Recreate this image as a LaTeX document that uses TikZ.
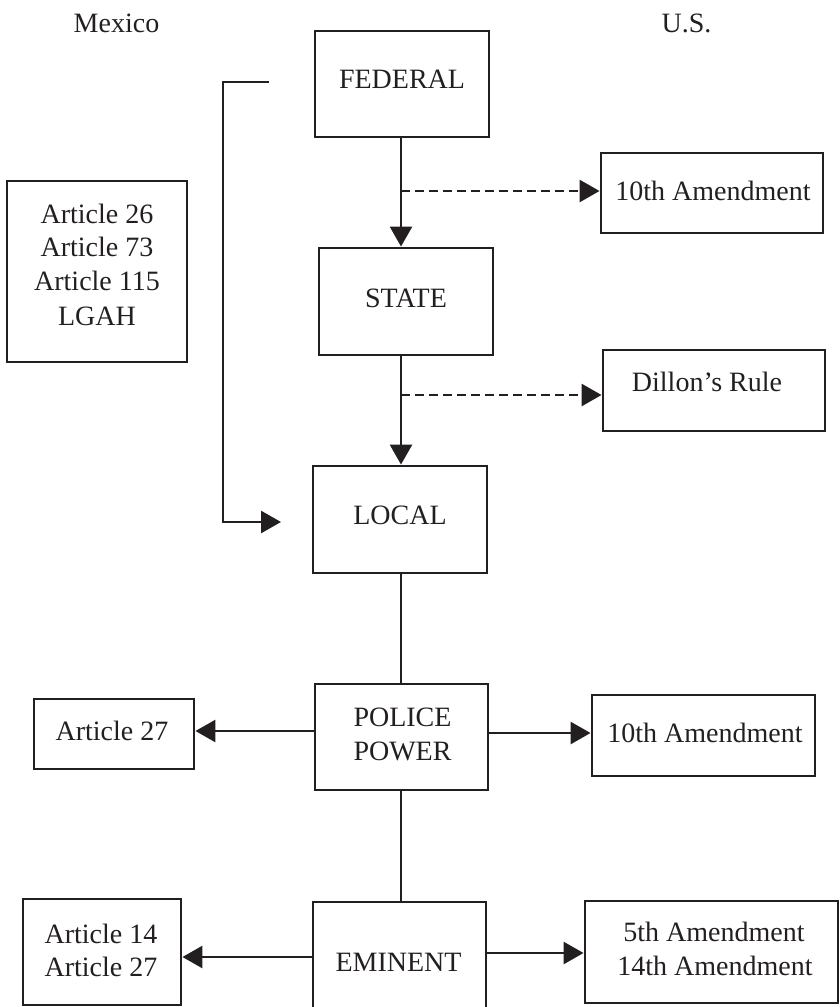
\documentclass[tikz,border=0pt]{standalone}
\usepackage{fontspec}
\setmainfont{Liberation Serif}
\usetikzlibrary{arrows.meta}
\definecolor{ink}{RGB}{35,31,32}
\begin{document}
\begin{tikzpicture}[x=1pt,y=-1pt,
  box/.style={draw=ink, line width=2.9pt, inner sep=0pt, rectangle},
  lbl/.style={text=ink, inner sep=0pt, anchor=base, font=\fontsize{28}{33}\selectfont},
  conn/.style={draw=ink, line width=2.7pt},
  arr/.style={conn, -{Triangle[length=20pt,width=22pt]}},
  dasharr/.style={arr, dash pattern=on 9pt off 5pt},
]
\useasboundingbox (0,0) rectangle (839,1007);
\clip (0,0) rectangle (839,1007);

% boxes
\node[box, minimum width=174pt, minimum height=106pt] (fed) at (402,84) {};
\node[box, minimum width=222pt, minimum height=80pt] (ten1) at (712,193) {};
\node[box, minimum width=174pt, minimum height=107pt] (state) at (406,301.5) {};
\node[box, minimum width=222pt, minimum height=81pt] (dillon) at (714,390.5) {};
\node[box, minimum width=174pt, minimum height=107pt] (local) at (400,519.5) {};
\node[box, minimum width=180pt, minimum height=181pt] (art) at (97,271.5) {};
\node[box, minimum width=173pt, minimum height=106pt] (police) at (401.5,737) {};
\node[box, minimum width=160pt, minimum height=70pt] (art27) at (114,734) {};
\node[box, minimum width=223pt, minimum height=81pt] (ten2) at (703.5,735.5) {};
\node[box, minimum width=158pt, minimum height=106pt] (art1427) at (102,952) {};
\node[box, minimum width=173pt, minimum height=110pt] (eminent) at (399.5,957) {};
\node[box, minimum width=253pt, minimum height=102pt] (fiveth) at (711.5,952) {};

% labels
\node[lbl] (tmx) at (116.5,32) {Mexico};
\node[lbl] (tus) at (686.5,32) {U.S.};
\node[lbl] (tfed) at (402,88) {FEDERAL};
\node[lbl] (tten1) at (713,200) {10th Amendment};
\node[lbl] (tstate) at (406,307) {STATE};
\node[lbl] (tdillon) at (707,391) {Dillon’s Rule};
\node[lbl] (tlocal) at (400,524) {LOCAL};
\node[lbl] (ta1) at (97,223) {Article 26};
\node[lbl] (ta2) at (97,256) {Article 73};
\node[lbl] (ta3) at (97,290) {Article 115};
\node[lbl] (ta4) at (97,325) {LGAH};
\node[lbl] (tpol1) at (402.5,726) {POLICE};
\node[lbl] (tpol2) at (402.5,760) {POWER};
\node[lbl] (tart27) at (112,740) {Article 27};
\node[lbl] (tten2) at (705,742) {10th Amendment};
\node[lbl] (temi) at (398.5,971) {EMINENT};
\node[lbl] (tb1) at (101,943) {Article 14};
\node[lbl] (tb2) at (101,976) {Article 27};
\node[lbl] (tf1) at (714,941) {5th Amendment};
\node[lbl] (tf2) at (715,975) {14th Amendment};

% connectors
\coordinate (d1) at (401,191);
\coordinate (d2) at (401,395);
\draw[arr] (d1 |- fed.south) -- (d1 |- state.north);
\draw[dasharr] (d1) -- (d1 -| ten1.west);
\draw[arr] (d2 |- state.south) -- (d2 |- local.north);
\draw[dasharr] (d2) -- (d2 -| dillon.west);
\coordinate (b1) at (269,82);
\coordinate (b2) at (281,522);
\draw[arr] (b1) -- ++(-46,0) |- (b2);
\draw[conn] (d2 |- local.south) -- (d2 |- police.north);
\draw[conn] (d2 |- police.south) -- (d2 |- eminent.north);
\draw[arr] ([yshift=6pt]police.west) coordinate (pw) -- (pw -| art27.east);
\draw[arr] ([yshift=4pt]police.east) coordinate (pe) -- (pe -| ten2.west);
\draw[arr] (eminent.west) -- (eminent.west -| art1427.east);
\draw[arr] ([yshift=4pt]eminent.east) coordinate (ee) -- (ee -| fiveth.west);
\end{tikzpicture}
\end{document}
